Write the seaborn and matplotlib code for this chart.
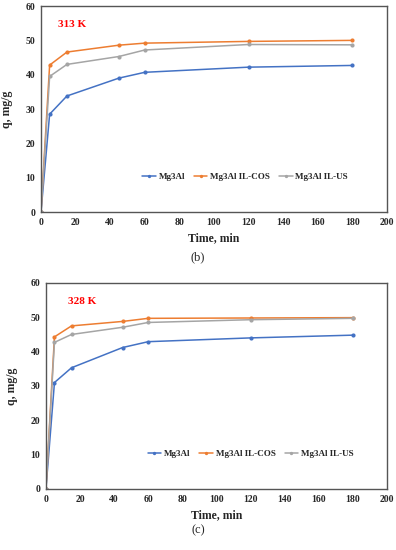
import numpy as np
import pandas as pd
import seaborn as sns
import matplotlib.pyplot as plt

time_min = [0, 5, 15, 45, 60, 120, 180]
series_names = ["Mg3Al", "Mg3Al IL-COS", "Mg3Al IL-US"]

# 313 K
q313_mg3al = [0, 28.5, 33.8, 39.0, 40.7, 42.2, 42.7]
q313_cos = [0, 42.8, 46.6, 48.6, 49.2, 49.7, 50.0]
q313_us = [0, 39.5, 43.0, 45.3, 47.2, 48.8, 48.7]

# 328 K
q328_mg3al = [0, 31.0, 35.3, 41.2, 42.9, 44.0, 44.8]
q328_cos = [0, 44.3, 47.5, 48.8, 49.7, 49.8, 49.9]
q328_us = [0, 42.7, 45.0, 47.1, 48.5, 49.3, 49.7]

colors = ["#4472C4", "#ED7D31", "#A5A5A5"]


def to_long(*series):
    rows = []
    for name, vals in zip(series_names, series):
        for t, q in zip(time_min, vals):
            rows.append({"time": t, "q": q, "series": name})
    return pd.DataFrame(rows)


sns.set_style("white")
plt.rcParams['font.family'] = ['Liberation Serif', 'DejaVu Serif']
plt.rcParams['font.weight'] = 'bold'

fig = plt.figure(figsize=(3.96, 5.5), dpi=100)
ax1 = fig.add_axes([0.1035, 0.6145, 0.8735, 0.3745])
ax2 = fig.add_axes([0.116, 0.111, 0.861, 0.3745])

panels = [
    (ax1, to_long(q313_mg3al, q313_cos, q313_us), "313 K", 10, "(b)", 0.527, 0.59),
    (ax2, to_long(q328_mg3al, q328_cos, q328_us), "328 K", 13, "(c)", 0.030, 0.60),
]

for ax, df, temp, tx, cap, cap_y, leg_x in panels:
    sns.lineplot(data=df, x="time", y="q", hue="series", palette=colors,
                 marker="o", markersize=3, markeredgewidth=0, linewidth=1.1,
                 ax=ax)
    ax.set_xlim(0, 200)
    ax.set_ylim(0, 60)
    ax.set_xticks(np.arange(0, 201, 20))
    ax.set_yticks(np.arange(0, 61, 10))
    ax.tick_params(axis='both', labelsize=7, length=0, pad=4)
    for lbl in ax.get_xticklabels() + ax.get_yticklabels():
        lbl.set_fontweight('bold')
    ax.set_xlabel("Time, min", fontsize=8.5, fontweight='bold', labelpad=4)
    ax.set_ylabel("q, mg/g", fontsize=8.5, fontweight='bold', labelpad=9)
    for side in ["left", "bottom", "top", "right"]:
        ax.spines[side].set_visible(True)
        ax.spines[side].set_color("#555555")
        ax.spines[side].set_linewidth(1.0)
    ax.text(tx, 54, temp, color="red", fontsize=8, fontweight='bold')
    leg = ax.legend(loc="center", bbox_to_anchor=(leg_x, 0.17), ncol=3,
                    frameon=False, fontsize=6.5, handlelength=1.5,
                    columnspacing=1.0, handletextpad=0.3, markerscale=0.8)
    for t in leg.get_texts():
        t.set_fontweight('bold')
    fig.text(0.5, cap_y, cap, ha="center", fontsize=9, fontweight='normal')

plt.savefig("out.png", dpi=100)
